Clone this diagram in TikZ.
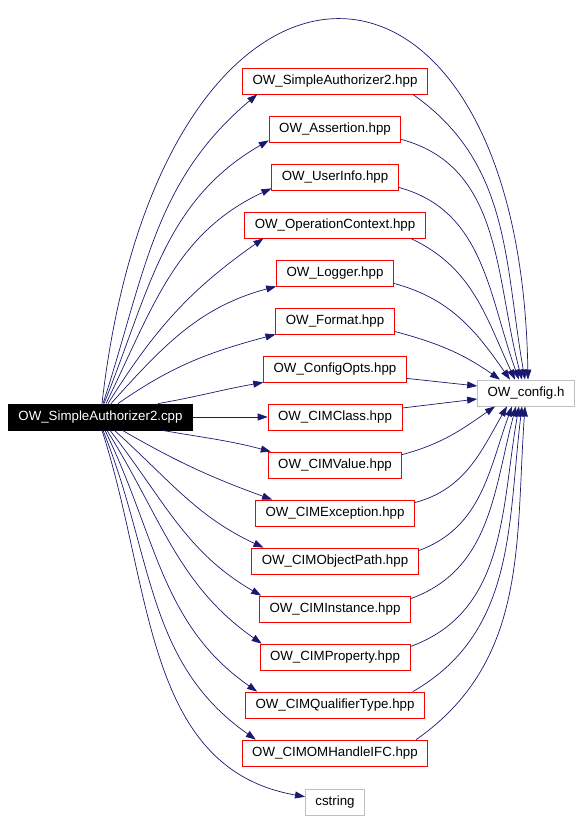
\documentclass[tikz,border=0pt]{standalone}
\usepackage{fontspec}
\setmainfont{Liberation Sans}
\usetikzlibrary{arrows.meta}

\definecolor{edgeblue}{RGB}{25,25,112}
\definecolor{boxgray}{RGB}{191,191,191}

\tikzset{
  file/.style={draw=red, line width=0.8pt, minimum height=26pt, inner xsep=10pt, inner ysep=2pt,
    font=\fontsize{13.3}{16}\selectfont},
  sysfile/.style={file, draw=boxgray},
  mainfile/.style={file, draw=black, fill=black, text=white},
  dep/.style={draw=edgeblue, line width=0.7pt, -{Triangle[length=10pt,width=7pt]}}
}

\begin{document}
\begin{tikzpicture}[x=1pt,y=1pt]
\useasboundingbox (0,0) rectangle (581,-819);

\node[mainfile] (main) at (100.5,-417) {OW\_SimpleAuthorizer2.cpp};

\node[file] (sa) at (335,-81) {OW\_SimpleAuthorizer2.hpp};
\node[file] (as) at (335,-129) {OW\_Assertion.hpp};
\node[file] (ui) at (335,-177) {OW\_UserInfo.hpp};
\node[file] (oc) at (335,-225) {OW\_OperationContext.hpp};
\node[file] (lg) at (335,-273) {OW\_Logger.hpp};
\node[file] (fm) at (335,-321) {OW\_Format.hpp};
\node[file] (co) at (335,-369) {OW\_ConfigOpts.hpp};
\node[file] (cc) at (335,-417) {OW\_CIMClass.hpp};
\node[file] (cv) at (335,-465) {OW\_CIMValue.hpp};
\node[file] (ce) at (335,-513) {OW\_CIMException.hpp};
\node[file] (op) at (335,-561) {OW\_CIMObjectPath.hpp};
\node[file] (ci) at (335,-609) {OW\_CIMInstance.hpp};
\node[file] (cp) at (335,-657) {OW\_CIMProperty.hpp};
\node[file] (qt) at (335,-705) {OW\_CIMQualifierType.hpp};
\node[file] (oh) at (335,-753) {OW\_CIMOMHandleIFC.hpp};
\node[sysfile] (cs) at (335,-802) {cstring};

\node[sysfile] (cfg) at (526,-393) {OW\_config.h};

% from the source file
\draw[dep] ([xshift=1.5pt]main.north) .. controls (160,104) and (520,104) .. ([xshift=2pt]cfg.north);
\draw[dep] ([xshift=2.5pt]main.north) to[out=72,in=220] ([xshift=15pt]sa.south west);
\draw[dep] ([xshift=3.5pt]main.north) to[out=68,in=210] ([yshift=2pt]as.south west);
\draw[dep] ([xshift=5.5pt]main.north) to[out=64,in=205] ([yshift=2pt]ui.south west);
\draw[dep] ([xshift=7.5pt]main.north) to[out=58,in=215] ([xshift=19pt]oc.south west);
\draw[dep] ([xshift=10.5pt]main.north) to[out=48,in=195] (lg.south west);
\draw[dep] ([xshift=17.5pt]main.north) to[out=35,in=195] (fm.south west);
\draw[dep] ([xshift=57.5pt]main.north) to[out=10,in=190] (co.south west);
\draw[dep] (main) -- (cc);
\draw[dep] ([xshift=62pt]main.south) to[out=-10,in=165] ([xshift=3pt]cv.north west);
\draw[dep] ([xshift=22pt]main.south) to[out=-30,in=160] ([xshift=17pt]ce.north west);
\draw[dep] ([xshift=14pt]main.south) to[out=-42,in=155] ([xshift=12pt]op.north west);
\draw[dep] ([xshift=9.5pt]main.south) to[out=-52,in=150] ([xshift=2pt]ci.north west);
\draw[dep] ([xshift=6.5pt]main.south) to[out=-58,in=145] ([xshift=2pt]cp.north west);
\draw[dep] ([xshift=4.5pt]main.south) to[out=-64,in=145] ([xshift=12pt]qt.north west);
\draw[dep] ([xshift=2.5pt]main.south) to[out=-68,in=145] ([xshift=14pt]oh.north west);
\draw[dep] ([xshift=1.5pt]main.south) to[out=-72,in=170] (cs);

% into OW_config.h
\draw[dep] ([xshift=-15pt]sa.south east) to[out=-35,in=100] ([xshift=-1pt]cfg.north);
\draw[dep] ([yshift=3pt]as.south east) to[out=-15,in=105] ([xshift=-4pt]cfg.north);
\draw[dep] ([yshift=3pt]ui.south east) to[out=-15,in=110] ([xshift=-7pt]cfg.north);
\draw[dep] ([xshift=-15pt]oc.south east) to[out=-25,in=115] ([xshift=-11pt]cfg.north);
\draw[dep] ([yshift=3pt]lg.south east) to[out=-15,in=125] ([xshift=-16pt]cfg.north);
\draw[dep] ([yshift=3pt]fm.south east) to[out=-15,in=145] ([xshift=-26pt]cfg.north);
\draw[dep] ([yshift=4pt]co.south east) -- ([yshift=7pt]cfg.west);
\draw[dep] ([yshift=9pt]cc.east) -- ([yshift=-6pt]cfg.west);
\draw[dep] ([yshift=-3pt]cv.north east) to[out=15,in=215] ([xshift=-31pt]cfg.south);
\draw[dep] ([yshift=-3pt]ce.north east) to[out=15,in=240] ([xshift=-19pt]cfg.south);
\draw[dep] ([yshift=-3pt]op.north east) to[out=20,in=250] ([xshift=-14pt]cfg.south);
\draw[dep] ([yshift=-3pt]ci.north east) to[out=20,in=255] ([xshift=-10pt]cfg.south);
\draw[dep] ([yshift=-3pt]cp.north east) to[out=20,in=260] ([xshift=-7pt]cfg.south);
\draw[dep] ([xshift=-12pt]qt.north east) to[out=30,in=263] ([xshift=-4pt]cfg.south);
\draw[dep] ([xshift=-12pt]oh.north east) to[out=35,in=266] ([xshift=-1pt]cfg.south);

\end{tikzpicture}
\end{document}
